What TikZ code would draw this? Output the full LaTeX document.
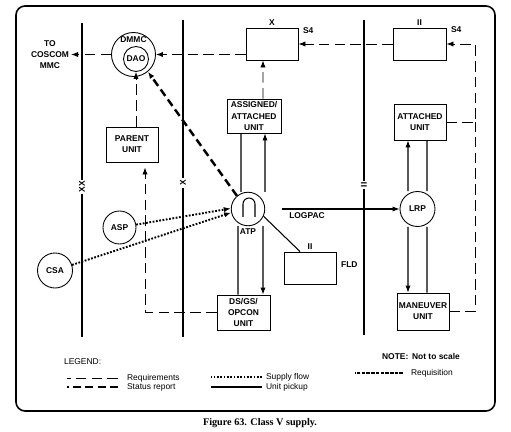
\documentclass[tikz,border=0pt]{standalone}
\usepackage{fontspec}
\setsansfont{Liberation Sans}
\newfontfamily\capfont{Liberation Serif}
\usetikzlibrary{positioning,arrows.meta}
\newcommand\lblfont{\sffamily\bfseries\fontsize{4.8}{6.4}\selectfont}
\newcommand\legfont{\sffamily\fontsize{4.8}{6.4}\selectfont}
\tikzset{
  box/.style={draw, line width=0.5pt, inner sep=1pt, align=center, font=\lblfont},
  ring/.style={draw, circle, line width=0.5pt, inner sep=0pt, font=\lblfont},
  lbl/.style={font=\lblfont, inner sep=1pt},
  leg/.style={font=\legfont, inner sep=1pt, anchor=west},
  req/.style={line width=0.5pt, dash pattern=on 6pt off 3pt},
  status/.style={line width=1.4pt, dash pattern=on 4.5pt off 2.5pt},
  supply/.style={line width=1.1pt, dash pattern=on 1pt off 0.9pt},
  pickup/.style={line width=0.6pt},
  requis/.style={line width=1pt, dash pattern=on 2pt off 0.7pt},
  border/.style={line width=1.5pt},
}
\begin{document}
\begin{tikzpicture}[x=0.02cm, y=-0.02cm, >={Latex[length=4pt,width=3pt]}]
\useasboundingbox (0,0) rectangle (511,432);
\draw[line width=0.9pt, rounded corners=0.18cm] (16,6) rectangle (495,411);

% boundaries
\draw[border] (82,23) -- (82,337);
\draw[border] (183,20) -- (183,337);
\draw[border] (364,20) -- (364,335);
\node[lbl, fill=white, rotate=90] (bxx) at (82,187) {XX};
\node[lbl, fill=white, rotate=90] (bx) at (183,183) {X};
\node[lbl, fill=white, rotate=90] (bii) at (364,185) {II};

% nodes
\node[lbl, align=center] (coscom) at (50,54.5) {TO\\COSCOM\\MMC};
\node[ring, minimum size=0.88cm] (dmmc) at (133.5,54.5) {};
\node[lbl, below=0.05cm of dmmc.north] (dmmclbl) {DMMC};
\node[ring, minimum size=0.5cm] (dao) at (136,59) {DAO};

\node[box, minimum width=1.04cm, minimum height=0.64cm] (xbox) at (272,44) {};
\node[lbl, above=0pt of xbox] (xlbl) {X};
\node[lbl, anchor=west] (xs4) at (301,31) {S4};
\node[box, minimum width=1.06cm, minimum height=0.64cm] (rbox) at (419.5,44) {};
\node[lbl, above=0pt of rbox] (rlbl) {II};
\node[lbl, anchor=west] (rs4) at (449,30) {S4};

\node[box, minimum width=1.08cm, minimum height=0.68cm] (asg) at (254,116) {ASSIGNED/\\ATTACHED\\UNIT};
\node[box, minimum width=1.04cm, minimum height=0.70cm] (parent) at (132,144.5) {PARENT\\UNIT};
\node[box, minimum width=1.04cm, minimum height=0.72cm] (att) at (420,122) {ATTACHED\\UNIT};

\node[ring, minimum size=0.67cm] (atp) at (248,209) {};
\draw[pickup] (243,217) -- (243,204) arc[start angle=180, end angle=360, radius=6] -- (255,217);
\node[lbl, below=0pt of atp] (atplbl) {ATP};
\node[ring, minimum size=0.70cm] (lrp) at (417.5,209) {LRP};
\node[ring, minimum size=0.66cm] (asp) at (119.5,227.5) {ASP};
\node[ring, minimum size=0.70cm] (csa) at (55,270.5) {CSA};

\node[box, minimum width=1.04cm, minimum height=0.64cm] (fld) at (310,268) {};
\node[lbl, above=0pt of fld] (fldii) {II};
\node[lbl, anchor=west] (fldlbl) at (339,265) {FLD};
\node[lbl] (logpac) at (307,216) {LOGPAC};

\node[box, minimum width=1.06cm, minimum height=0.70cm] (ds) at (243.5,312.5) {DS/GS/\\OPCON\\UNIT};
\node[box, minimum width=1.04cm, minimum height=0.74cm] (man) at (423,311.5) {MANEUVER\\UNIT};

% requirements
\draw[req,->] (dmmc.west) -- (coscom.east |- dmmc.west);
\draw[req,->] (xbox.west |- dmmc.east) -- (dmmc.east);
\draw[req,->] (rbox.west) -- (xbox.east);
\draw[req,->] ([xshift=0.18cm]asg.north) -- ([xshift=-0.18cm]xbox.south);
\draw[req,->] (parent.north -| dao.south) -- (dao.south);
\draw[req,->, shorten >=0.1cm] (ds.west) -| ([xshift=0.26cm]parent.south);
\coordinate (rtop) at (475,44);
\draw[req,->] (att.east) -| (rtop) -- (rbox.east);
\draw[req] (man.east) -| (att.east -| rtop);

% status report
\draw[status,->] (atp.130) -- (dmmc.-50);

% supply flow
\draw[supply,->] (asp) -- (atp.178);
\draw[supply,->] (csa) -- (atp.192);

% unit pickup
\draw[pickup] ([xshift=-0.26cm]asg.south) -- ([xshift=-0.14cm]atp.north);
\draw[pickup,->] ([xshift=0.34cm]atp.north) -- ([xshift=0.22cm]asg.south);
\draw[pickup] ([xshift=-0.2cm]atp.south) -- ([xshift=-0.11cm]ds.north);
\draw[pickup,->] ([xshift=0.3cm]atp.south) -- ([xshift=0.39cm]ds.north);
\draw[pickup] (atp.-25) -- ([xshift=-0.2cm]fld.north);
\draw[pickup,->] ([xshift=0.34cm]atp.east) -- (lrp.west);
\draw[pickup,->] ([xshift=-0.19cm]lrp.north) -- ([xshift=-0.24cm]att.south);
\draw[pickup] ([xshift=0.14cm]att.south) -- ([xshift=0.19cm]lrp.north);
\draw[pickup,->] ([xshift=-0.19cm]lrp.south) -- ([xshift=-0.3cm]man.north);
\draw[pickup] ([xshift=0.19cm]lrp.south) -- ([xshift=0.08cm]man.north);

% legend
\node[leg] (legend) at (62,362) {LEGEND:};
\node[leg] (lreq) at (125,378) {Requirements};
\draw[req] ([xshift=-0.14cm]lreq.west) -- ++(-51,0);
\node[leg] (lstat) at (125,387) {Status report};
\draw[status] ([xshift=-0.14cm]lstat.west) -- ++(-51,0);
\node[leg] (lsup) at (264,377) {Supply flow};
\draw[supply] ([xshift=-0.04cm]lsup.west) -- ++(-51,0);
\node[leg] (lpick) at (264,387) {Unit pickup};
\draw[pickup] ([xshift=-0.04cm]lpick.west) -- ++(-51,0);
\node[leg] (lreqn) at (409,373) {Requisition};
\draw[requis] ([xshift=-0.12cm]lreqn.west) -- ++(-48,0);
\node[leg, font=\lblfont] (note) at (380,356) {NOTE:\, Not to scale};

\node[font=\capfont\bfseries\fontsize{5.8}{7}\selectfont] (caption) at (260,423) {Figure 63. Class V supply.};
\end{tikzpicture}
\end{document}
